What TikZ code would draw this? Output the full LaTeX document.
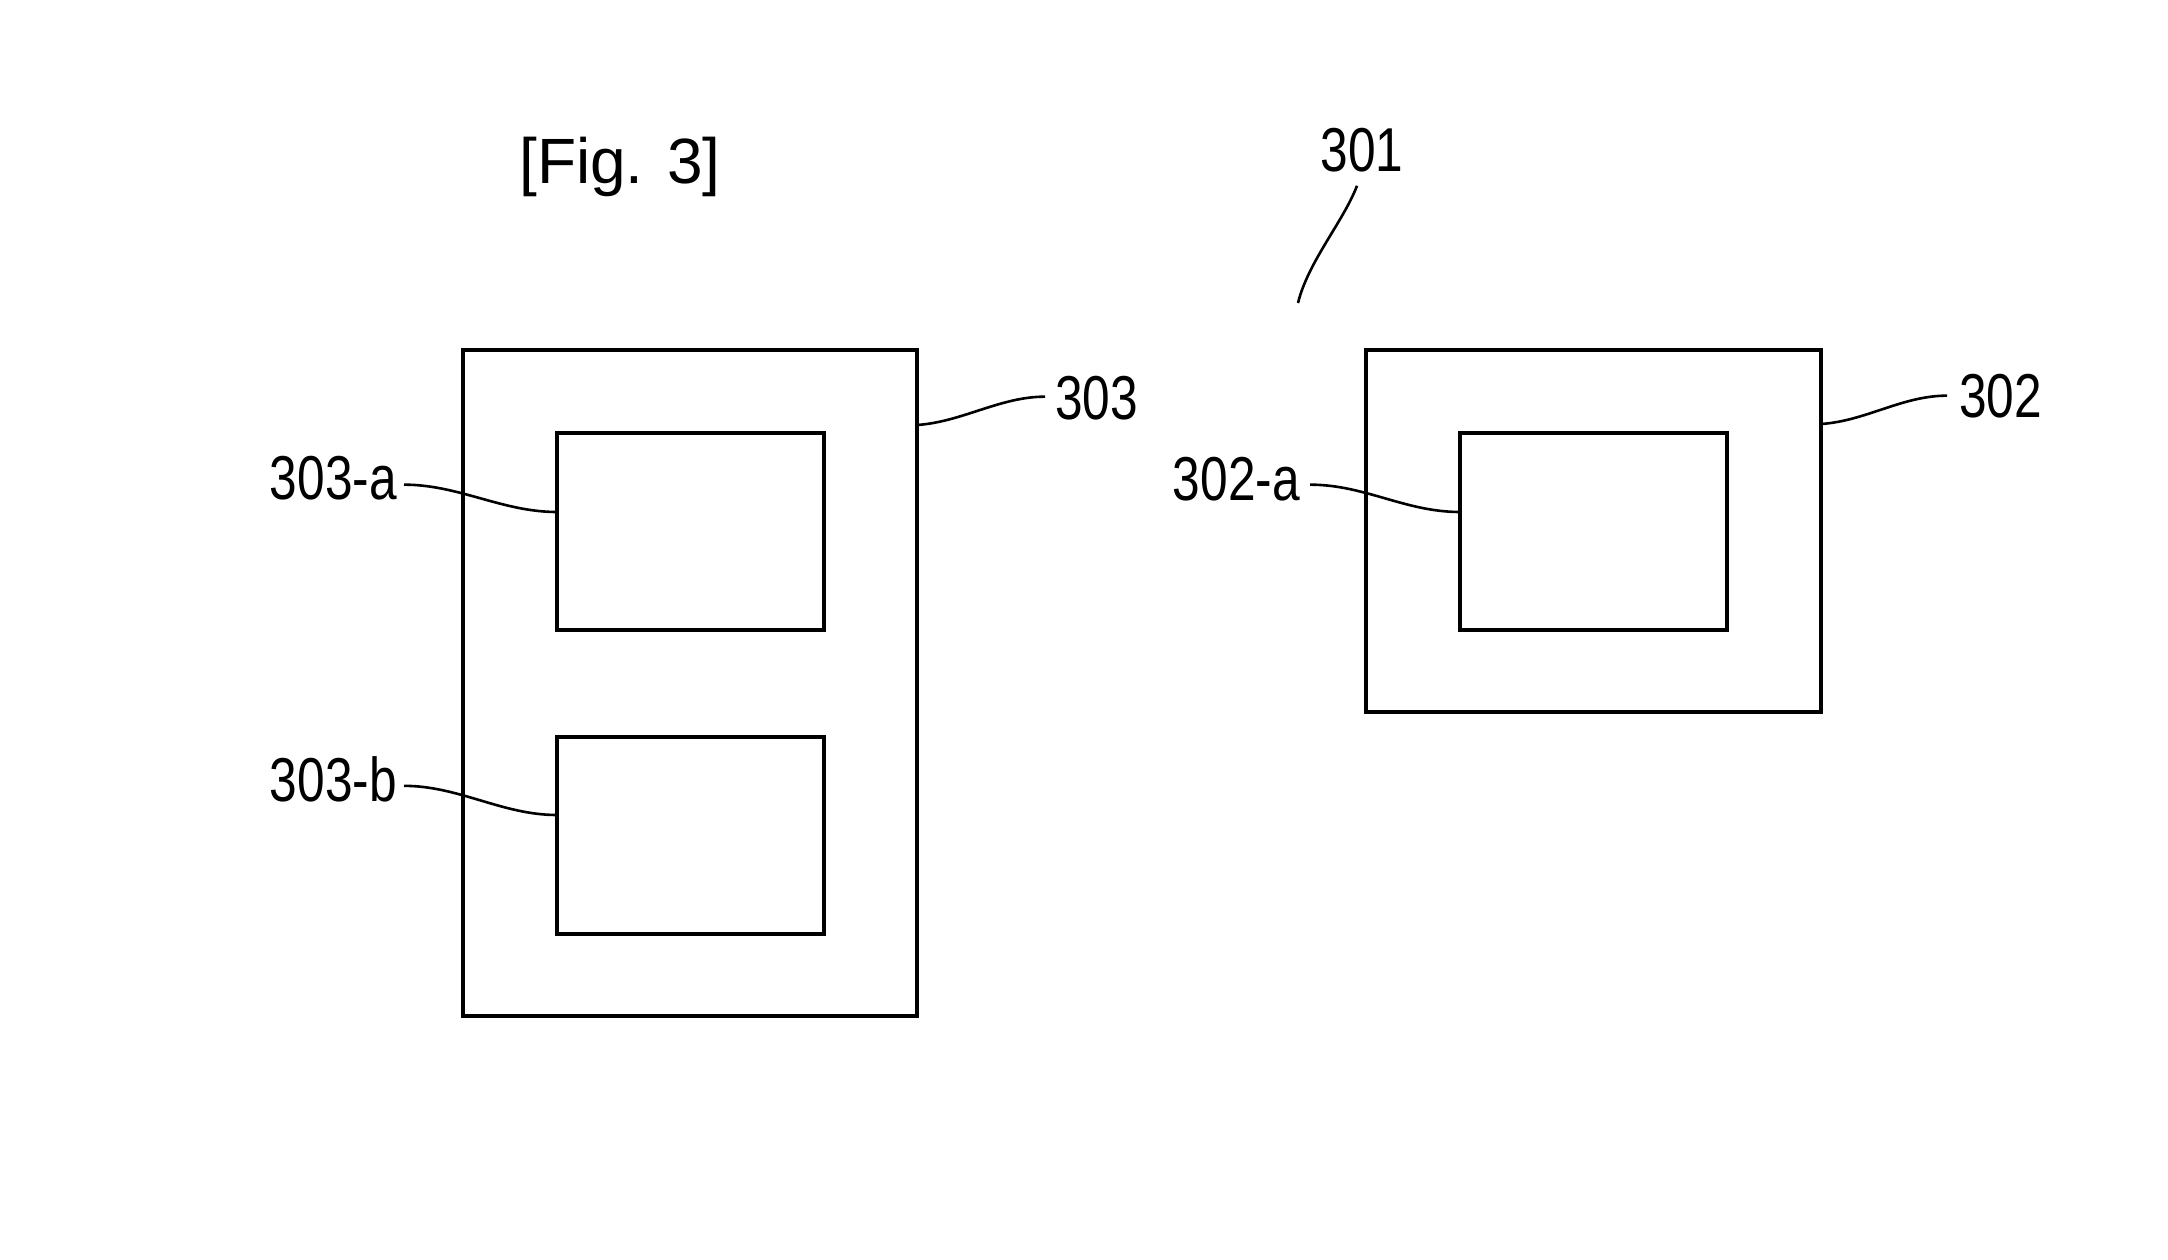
\documentclass[tikz,border=0pt]{standalone}
\usepackage{fontspec}
\setmainfont{Liberation Sans}
\newfontfamily\lblfont[FakeStretch=0.8]{Liberation Sans}
\newfontfamily\figfont{Liberation Sans}
\usetikzlibrary{calc}
\begin{document}
\begin{tikzpicture}[x=1pt,y=-1pt,
  box/.style={draw, line width=3.4pt, inner sep=0pt, outer sep=0pt},
  lbl/.style={font=\lblfont\fontsize{62}{70}\selectfont, inner sep=0pt},
  leader/.style={line width=2.6pt}]
\useasboundingbox[fill=white] (0,0) rectangle (2168,1260);

% boxes
\node[box, minimum width=454pt, minimum height=666pt] (o303) at (690,683) {};
\node[box, minimum width=267pt, minimum height=197pt] (i303a) at (690.5,531.5) {};
\node[box, minimum width=267pt, minimum height=197pt] (i303b) at (690.5,835.5) {};
\node[box, minimum width=455pt, minimum height=362pt] (o302) at (1593.5,531) {};
\node[box, minimum width=267pt, minimum height=197pt] (i302a) at (1593.5,531.5) {};

% texts
\node[font=\figfont\fontsize{64}{70}\selectfont, anchor=base, inner sep=0pt] (fig) at (620,184) {[Fig. 3]};
\node[lbl, anchor=base east] (l303a) at (397,499) {303-a};
\node[lbl, anchor=base east] (l303b) at (397,801) {303-b};
\node[lbl, anchor=base west] (l303) at (1055,419) {303};
\node[lbl, anchor=base west] (l302) at (1959,417) {302};
\node[lbl, anchor=base east] (l302a) at (1300,500) {302-a};
\node[lbl, anchor=base] (l301) at (1362,172) {301};
\coordinate (c301) at (1298,303);

% leaders
\draw[leader] ([shift={(7,7)}]l303a.east) .. controls +(55,0) and +(-55,0) .. ([shift={(0,79)}]i303a.north west);
\draw[leader] ([shift={(7,7)}]l303b.east) .. controls +(55,0) and +(-55,0) .. ([shift={(0,78)}]i303b.north west);
\draw[leader] ([shift={(10,6)}]l302a.east) .. controls +(55,0) and +(-55,0) .. ([shift={(0,79)}]i302a.north west);
\draw[leader] ([shift={(0,75)}]o303.north east) .. controls +(45,-3) and +(-45,0) .. ([shift={(-10,-1)}]l303.west);
\draw[leader] ([shift={(0,74)}]o302.north east) .. controls +(45,-3) and +(-45,0) .. ([shift={(-12,0)}]l302.west);
\draw[leader] ([shift={(-5,13)}]l301.south) .. controls (1343,222) and (1308,262) .. (c301);
\end{tikzpicture}
\end{document}
